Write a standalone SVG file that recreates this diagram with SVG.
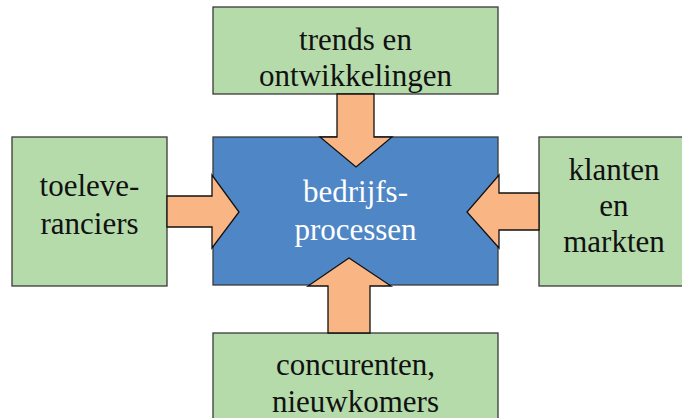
<svg xmlns="http://www.w3.org/2000/svg" width="682" height="418" viewBox="0 0 682 418">
<style>
.box{fill:#b5dbab;stroke:#3a3a3a;stroke-width:1.3}
.core{fill:#4f86c6;stroke:#3a3a3a;stroke-width:1.3}
.arr{fill:#f9b583;stroke:#111;stroke-width:1.3;stroke-linejoin:miter}
text{font-family:"Liberation Serif","Times New Roman",serif;font-size:31px;text-anchor:middle;fill:#111}
.w{fill:#fff}
</style>
<rect width="682" height="418" fill="#fff"/>
<g id="core">
<rect class="core" x="213" y="137" width="285" height="148"/>
<text class="w" x="355.5" y="202">bedrijfs-</text>
<text class="w" x="355.5" y="240">processen</text>
</g>
<g id="top">
<rect class="box" x="213" y="7" width="285" height="87"/>
<text x="355.5" y="50">trends en</text>
<text x="355.5" y="86">ontwikkelingen</text>
</g>
<g id="left">
<rect class="box" x="12" y="137" width="155" height="149"/>
<text x="89.5" y="196">toeleve-</text>
<text x="89.5" y="234">ranciers</text>
</g>
<g id="right">
<rect class="box" x="539" y="137" width="150" height="149"/>
<text x="614" y="180">klanten</text>
<text x="614" y="216">en</text>
<text x="614" y="252">markten</text>
</g>
<g id="bottom">
<rect class="box" x="213" y="333" width="285" height="100"/>
<text x="355.5" y="375">concurenten,</text>
<text x="355.5" y="412">nieuwkomers</text>
</g>
<g id="connectors">
<polygon class="arr" points="337,94 374,94 374,137 392,137 356,167 320,137 337,137"/>
<polygon class="arr" points="167,196 212,196 212,175 239,212 212,248 212,227 167,227"/>
<polygon class="arr" points="539,193 499,193 499,175 467,212 499,248 499,230 539,230"/>
<polygon class="arr" points="328,333 370,333 370,286 391,286 349,258 308,286 328,286"/>
</g>
</svg>
